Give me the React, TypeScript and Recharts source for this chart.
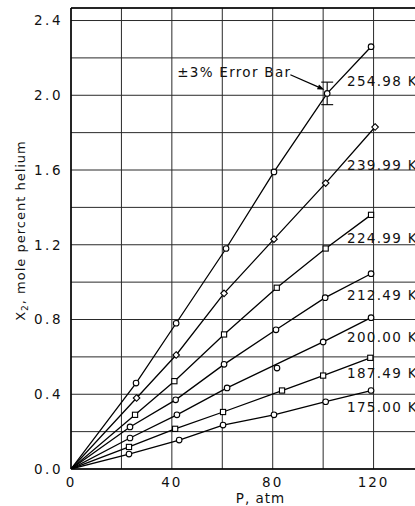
import React from 'react';
import {
  ComposedChart,
  Line,
  Scatter,
  XAxis,
  YAxis,
  CartesianGrid,
  ReferenceLine,
  ErrorBar,
  Label,
} from 'recharts';

// Temperatures (series names)
const temps = ['254.98 K', '239.99 K', '224.99 K', '212.49 K', '200.00 K', '187.49 K', '175.00 K'];

// Measured points: pressure (atm) and mole percent helium
const p25498 = [25.8, 41.7, 61.5, 80.5, 101.6, 119.0];
const x25498 = [0.46, 0.78, 1.18, 1.59, 2.01, 2.26];
const p23999 = [26.0, 41.7, 60.7, 80.5, 101.0, 120.6];
const x23999 = [0.38, 0.61, 0.94, 1.23, 1.53, 1.83];
const p22499 = [25.4, 41.0, 60.7, 81.6, 101.0, 119.0];
const x22499 = [0.29, 0.47, 0.72, 0.97, 1.18, 1.36];
const p21249 = [23.4, 41.5, 60.7, 81.3, 100.8, 119.0];
const x21249 = [0.225, 0.37, 0.56, 0.745, 0.917, 1.045];
const p20000 = [23.4, 42.0, 61.9, 81.7, 100.0, 119.0];
const x20000 = [0.166, 0.29, 0.434, 0.54, 0.68, 0.81];
const p18749 = [23.0, 41.3, 60.3, 83.7, 100.0, 118.7];
const x18749 = [0.118, 0.215, 0.305, 0.42, 0.5, 0.595];
const p17500 = [23.0, 42.9, 60.3, 80.5, 101.0, 119.0];
const x17500 = [0.08, 0.155, 0.235, 0.29, 0.36, 0.42];

// Smoothed curve for 200.00 K (the 80 atm point lies off the curve)
const curveP20000 = [0, 23.4, 42.0, 61.9, 100.0, 119.0];
const curveX20000 = [0, 0.166, 0.29, 0.434, 0.68, 0.81];

const seriesP = [p25498, p23999, p22499, p21249, p20000, p18749, p17500];
const seriesX = [x25498, x23999, x22499, x21249, x20000, x18749, x17500];
const markerShapes = ['circle', 'diamond', 'square', 'circle', 'circle', 'square', 'circle'];

// Curve label anchors (data coords)
const labelP = [109.5, 109.5, 109.5, 109.5, 109.5, 109.5, 109.5];
const labelX = [2.075, 1.625, 1.233, 0.933, 0.708, 0.515, 0.332];

// Error bar
const errP = [101.6];
const errX = [2.01];
const errPct = 0.03;

// Annotation
const noteText = '\u00b13% Error Bar';
const noteP = 42.1;
const noteX = 2.123;
const arrowFrom = { P: 87.0, X: 2.11 };
const arrowTo = { P: 100.5, X: 2.03 };

const xTicks = [0, 20, 40, 60, 80, 100, 120, 140];
const xLabelTicks = [0, 40, 80, 120];
const yTicks = [0, 0.2, 0.4, 0.6, 0.8, 1.0, 1.2, 1.4, 1.6, 1.8, 2.0, 2.2, 2.4];
const yLabelTicks = [0, 0.4, 0.8, 1.2, 1.6, 2.0, 2.4];
const xMax = 140;
const yMax = 2.467;

const FONT = 'DejaVu Sans';

const pointData = seriesP.map((ps, i) => ps.map((p, j) => ({ P: p, X: seriesX[i][j] })));
const curveData = seriesP.map((ps, i) => {
  if (i === 4) return curveP20000.map((p, j) => ({ P: p, X: curveX20000[j] }));
  return [{ P: 0, X: 0 }, ...ps.map((p, j) => ({ P: p, X: seriesX[i][j] }))];
});
const labelData = temps.map((t, i) => ({ P: labelP[i], X: labelX[i], t }));
const errData = errP.map((p, i) => ({ P: p, X: errX[i], err: errX[i] * errPct }));
const noteData = [{ P: noteP, X: noteX, t: noteText }];

const makeMarker = (kind: string) => (props: any) => {
  const { cx, cy } = props;
  if (cx == null || cy == null) return <g />;
  if (kind === 'square') {
    return <rect x={cx - 2.6} y={cy - 2.6} width={5.2} height={5.2} fill="#fff" stroke="#000" strokeWidth={1.1} />;
  }
  if (kind === 'diamond') {
    return (
      <polygon
        points={`${cx},${cy - 3.3} ${cx + 3.3},${cy} ${cx},${cy + 3.3} ${cx - 3.3},${cy}`}
        fill="#fff"
        stroke="#000"
        strokeWidth={1.1}
      />
    );
  }
  return <circle cx={cx} cy={cy} r={2.8} fill="#fff" stroke="#000" strokeWidth={1.1} />;
};

const textShape = (anchor: string) => (props: any) => {
  const { cx, cy, payload } = props;
  return (
    <text
      x={cx}
      y={cy}
      dy="0.36em"
      textAnchor={anchor}
      fontFamily={FONT}
      fontSize={13.5}
      letterSpacing={1.3}
      fill="#111"
    >
      {payload.t}
    </text>
  );
};

const arrowShape = (props: any) => {
  const { x1, y1, x2, y2 } = props;
  if ([x1, y1, x2, y2].some((v) => v == null || isNaN(v))) return <g />;
  const ang = Math.atan2(y2 - y1, x2 - x1);
  const L = 7;
  const W = 2.5;
  const bx = x2 - L * Math.cos(ang);
  const by = y2 - L * Math.sin(ang);
  const px = -Math.sin(ang) * W;
  const py = Math.cos(ang) * W;
  return (
    <g>
      <line x1={x1} y1={y1} x2={bx} y2={by} stroke="#000" strokeWidth={1.2} />
      <polygon points={`${x2},${y2} ${bx + px},${by + py} ${bx - px},${by - py}`} fill="#000" />
    </g>
  );
};

const YLabel = (props: any) => {
  const vb = props.viewBox || { x: 0, y: 0, width: 71, height: 461 };
  const x = vb.x + 20;
  const y = vb.y + vb.height / 2 - 8;
  return (
    <text
      x={x}
      y={y}
      transform={`rotate(-90 ${x} ${y})`}
      textAnchor="middle"
      dy="0.36em"
      fontFamily={FONT}
      fontSize={13}
      letterSpacing={1}
      fill="#111"
    >
      X<tspan fontSize={9} dy={3}>2</tspan>
      <tspan dy={-3}>, mole  percent  helium</tspan>
    </text>
  );
};

const XLabel = (props: any) => {
  const vb = props.viewBox || { x: 71, y: 469, width: 353, height: 37 };
  const x = vb.x + vb.width / 2 + 13;
  const y = vb.y + 29;
  return (
    <text x={x} y={y} textAnchor="middle" dy="0.36em" fontFamily={FONT} fontSize={13.5} letterSpacing={1} fill="#111">
      P, atm
    </text>
  );
};

export default function App() {
  return (
    <div style={{ position: 'absolute', left: 0, top: 0, width: 415, height: 506, overflow: 'hidden', background: '#fff' }}>
      <ComposedChart width={460} height={506} margin={{ top: 8, right: 36, bottom: 0, left: 0 }}>
        <CartesianGrid stroke="#2a2a2a" strokeWidth={1} />
        <XAxis
          type="number"
          dataKey="P"
          domain={[0, xMax]}
          ticks={xTicks}
          allowDataOverflow
          height={37}
          tickLine={false}
          axisLine={{ stroke: '#000', strokeWidth: 1.5 }}
          tickSize={6}
          tickMargin={2}
          tickFormatter={(v: number) => (xLabelTicks.includes(v) ? String(v) : '')}
          tick={{ fontSize: 13.5, fill: '#111', fontFamily: FONT, letterSpacing: 2 }}
        >
          <Label content={XLabel} />
        </XAxis>
        <YAxis
          type="number"
          dataKey="X"
          domain={[0, yMax]}
          ticks={yTicks}
          allowDataOverflow
          width={71}
          tickLine={false}
          axisLine={{ stroke: '#000', strokeWidth: 1.5 }}
          tickSize={6}
          tickMargin={2}
          tickFormatter={(v: number) =>
            yLabelTicks.some((t) => Math.abs(t - v) < 1e-6) ? v.toFixed(1) : ''
          }
          tick={{ fontSize: 13.5, fill: '#111', fontFamily: FONT, letterSpacing: 2.5 }}
        >
          <Label content={YLabel} />
        </YAxis>
        <ReferenceLine y={yMax} stroke="#000" strokeWidth={1.5} ifOverflow="extendDomain" />
        {curveData.map((d, i) => (
          <Line
            key={'c' + i}
            data={d}
            dataKey="X"
            type="linear"
            stroke="#000"
            strokeWidth={1.3}
            dot={false}
            activeDot={false}
            isAnimationActive={false}
          />
        ))}
        {pointData.map((d, i) => (
          <Scatter
            key={'p' + i}
            data={d}
            dataKey="X"
            shape={makeMarker(markerShapes[i])}
            isAnimationActive={false}
          />
        ))}
        <Scatter data={errData} dataKey="X" shape={() => <g />} isAnimationActive={false}>
          <ErrorBar dataKey="err" direction="y" width={6} stroke="#000" strokeWidth={1.1} />
        </Scatter>
        <Scatter data={labelData} dataKey="X" shape={textShape('start')} isAnimationActive={false} />
        <Scatter data={noteData} dataKey="X" shape={textShape('start')} isAnimationActive={false} />
        <ReferenceLine
          segment={[
            { x: arrowFrom.P, y: arrowFrom.X },
            { x: arrowTo.P, y: arrowTo.X },
          ]}
          shape={arrowShape}
          ifOverflow="visible"
        />
      </ComposedChart>
    </div>
  );
}
